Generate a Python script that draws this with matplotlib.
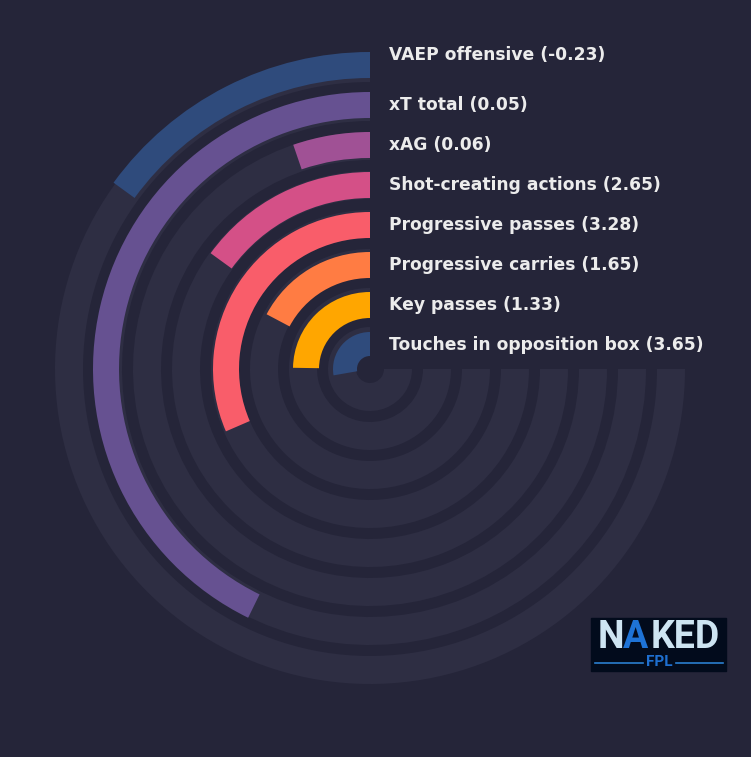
import matplotlib.pyplot as plt
import numpy as np
from matplotlib.patches import Rectangle

# outermost ring first
metrics = ["VAEP offensive", "xT total", "xAG", "Shot-creating actions",
           "Progressive passes", "Progressive carries", "Key passes",
           "Touches in opposition box"]
values = ["-0.23", "0.05", "0.06", "2.65", "3.28", "1.65", "1.33", "3.65"]
percentiles = [20, 57, 7, 20, 42, 23, 33, 37]
colors = ["#2f4b7c", "#665191", "#a05195", "#d45087", "#f95d6a", "#ff7c43",
          "#ffa600", "#2f4b7c"]

bg = "#252539"
track_col = "#2e2e43"
W, H = 751, 757
cx, cy = 370, 369          # centre of the rings in pixels (from top-left)
R = 340                    # axes half size in px = r limit

fig = plt.figure(figsize=(W / 100, H / 100), dpi=100, facecolor=bg)
ax = fig.add_axes([(cx - R) / W, (H - cy - R) / H, 2 * R / W, 2 * R / H],
                  projection="polar")
ax.set_theta_zero_location("N")
ax.set_theta_direction(1)
ax.set_ylim(0, R)
ax.axis("off")

full = 1.5 * np.pi
n = len(metrics)
for k in range(n):
    i = n - 1 - k  # 0 = innermost ring
    # background track
    ax.bar(0, 28, width=full, bottom=14 + 39 * i, align="edge",
           color=track_col, linewidth=0, zorder=1)
    # value bar
    ax.bar(0, 26, width=full * percentiles[k] / 100, bottom=11 + 40 * i,
           align="edge", color=colors[k], linewidth=0, zorder=2)

    base = cy - (24 + 40 * i) + 5
    if k == 0:
        base -= 9.5
    fig.text(389 / W, 1 - base / H, f"{metrics[k]} ({values[k]})",
             ha="left", va="baseline", fontsize=12.3, fontweight="bold",
             color="#ececec")

# hole in the middle
ax.bar(0, 13, width=2 * np.pi, bottom=0, align="edge", color=bg,
       linewidth=0, zorder=3)

# logo box
fig.patches.append(Rectangle((591 / W, 1 - 671 / H), 135 / W, 53 / H,
                             transform=fig.transFigure, color="#020b1c",
                             zorder=5))
fig.text(598 / W, 1 - 648 / H, "N", fontsize=27, fontweight="bold",
         family="Roboto", color="#cde4f2", zorder=6)
fig.text(623 / W, 1 - 648 / H, "A", fontsize=27, fontweight="bold",
         family="Roboto", color="#1e73d6", zorder=6)
fig.text(651 / W, 1 - 648 / H, "KED", fontsize=27, fontweight="bold",
         family="Roboto", color="#cde4f2", zorder=6)
fig.text(659 / W, 1 - 662 / H, "FPL", fontsize=11, fontweight="bold",
         family="Roboto", color="#1e6fd0", ha="center", va="center", zorder=6)
fig.lines.append(plt.Line2D([595 / W, 643 / W], [1 - 663 / H, 1 - 663 / H],
                            transform=fig.transFigure, color="#2a7fd0",
                            lw=1.2, zorder=6))
fig.lines.append(plt.Line2D([676 / W, 723 / W], [1 - 663 / H, 1 - 663 / H],
                            transform=fig.transFigure, color="#2a7fd0",
                            lw=1.2, zorder=6))

fig.savefig("out.png", dpi=100, facecolor=bg)
